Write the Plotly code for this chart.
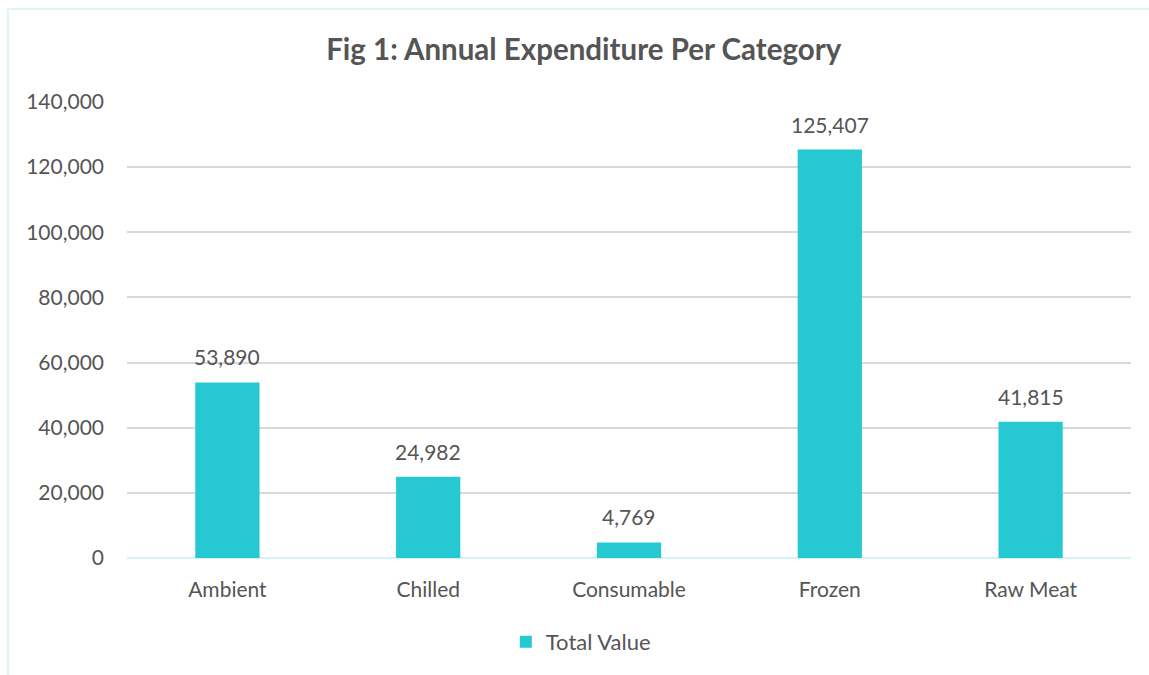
import plotly.graph_objects as go

categories = ["Ambient", "Chilled", "Consumable", "Frozen", "Raw Meat"]
values = [53890, 24982, 4769, 125407, 41815]
tick_vals = [0, 20000, 40000, 60000, 80000, 100000, 120000, 140000]
tick_text = ["0", "20,000", "40,000", "60,000", "80,000", "100,000", "120,000", "140,000"]

FONT = "Lato, Carlito, Calibri, sans-serif"
GREY = "#555555"
FS = 21

fig = go.Figure(go.Bar(
    x=categories, y=values, name="Total Value",
    marker=dict(color="#26C9D2", line=dict(width=0)),
    width=0.32,
))

for c, v in zip(categories, values):
    fig.add_annotation(x=c, y=v, text=f"{v:,}", showarrow=False,
                       yanchor="bottom", yshift=11,
                       font=dict(size=FS, color=GREY, family=FONT))

fig.update_layout(
    width=1149, height=675,
    margin=dict(l=127, r=18, t=102, b=117),
    paper_bgcolor="white", plot_bgcolor="white",
    font=dict(family=FONT, color=GREY, size=FS),
    title=dict(text="<b>Fig 1: Annual Expenditure Per Category</b>",
               x=0.508, xanchor="center", y=1 - 50/675, yanchor="middle",
               font=dict(size=29.5, color=GREY, family=FONT)),
    showlegend=True,
    legend=dict(orientation="h", x=0.452, xanchor="center", y=-0.184, yanchor="middle",
                itemwidth=30, font=dict(size=22, color=GREY, family=FONT)),
    bargap=0.68,
    shapes=[dict(type="rect", xref="paper", yref="paper",
                 x0=(8-127)/1004, x1=1.2, y0=-0.4, y1=1 + (102-9)/456,
                 line=dict(color="#DDF5F7", width=2), layer="below")],
)
fig.update_yaxes(range=[0, 140000], tickvals=tick_vals, ticktext=tick_text,
                 showgrid=True, gridcolor="#D9D9D9", gridwidth=1.5,
                 zeroline=True, zerolinecolor="#D5F3F6", zerolinewidth=2,
                 ticks="", ticklabelstandoff=22, tickfont=dict(size=FS, color=GREY))
fig.update_xaxes(showline=False, ticks="", tickfont=dict(size=FS, color=GREY),
                 ticklabelstandoff=17)

fig.write_html("out.html")
